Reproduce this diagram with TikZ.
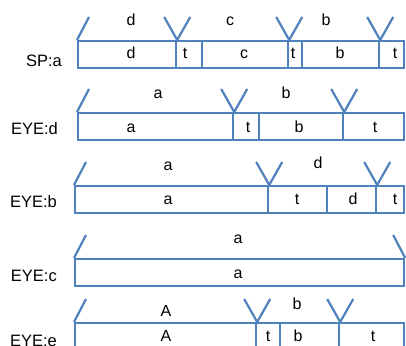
\documentclass[tikz,border=0pt]{standalone}
\usepackage{fontspec}
\setmainfont{Liberation Sans}
\usetikzlibrary{calc}
\definecolor{lb}{RGB}{79,129,189}
\begin{document}
\begin{tikzpicture}[x=1pt,y=-1pt,
  cell/.style={draw=lb,line width=2.2pt,rectangle,inner sep=0pt,anchor=north west},
  vline/.style={draw=lb,line width=2.2pt},
  txt/.style={font=\fontsize{16}{18}\selectfont,inner sep=0pt,anchor=base},
  rowlab/.style={font=\fontsize{16.5}{18}\selectfont,inner sep=0pt,anchor=base east}]
\useasboundingbox (0,0) rectangle (406,345);
\clip (0,0) rectangle (406,345);
% ---------- Row 1 : SP:a ----------
\node[rowlab] (l1) at (62,66) {SP:a};
\node[cell,minimum width=98,minimum height=27] (r1a) at (77,40) {};
\node[cell,minimum width=26,minimum height=27] (r1b) at (175,40) {};
\node[cell,minimum width=86,minimum height=27] (r1c) at (201,40) {};
\node[cell,minimum width=14,minimum height=27] (r1d) at (287,40) {};
\node[cell,minimum width=77,minimum height=27] (r1e) at (301,40) {};
\node[cell,minimum width=25,minimum height=27] (r1f) at (378,40) {};
\node[txt] (t1a) at (131,59) {d};
\node[txt] (t1b) at (185,59) {t};
\node[txt] (t1c) at (244,59) {c};
\node[txt] (t1d) at (293,59) {t};
\node[txt] (t1e) at (340,59) {b};
\node[txt] (t1f) at (395,59) {t};
\draw[vline] (r1a.north west) -- ++(12,-23);
\draw[vline] ($(r1a.north east)+(-13,-23)$) -- (r1a.north east) -- ++(13,-23);
\draw[vline] ($(r1c.north east)+(-13,-23)$) -- (r1c.north east) -- ++(13,-23);
\draw[vline] ($(r1e.north east)+(-13,-23)$) -- (r1e.north east) -- ++(13,-23);
\node[txt] (u1a) at (131,26) {d};
\node[txt] (u1b) at (230,26) {c};
\node[txt] (u1c) at (326,26) {b};
% ---------- Row 2 : EYE:d ----------
\node[rowlab] (l2) at (58,134) {EYE:d};
\node[cell,minimum width=155,minimum height=27] (r2a) at (77,112) {};
\node[cell,minimum width=26,minimum height=27] (r2b) at (232,112) {};
\node[cell,minimum width=84,minimum height=27] (r2c) at (258,112) {};
\node[cell,minimum width=61,minimum height=27] (r2d) at (342,112) {};
\node[txt] (t2a) at (131,132) {a};
\node[txt] (t2b) at (248,132) {t};
\node[txt] (t2c) at (299,132) {b};
\node[txt] (t2d) at (375,132) {t};
\draw[vline] (r2a.north west) -- ++(12,-23);
\draw[vline] ($(r2a.north east)+(-13,-23)$) -- (r2a.north east) -- ++(13,-23);
\draw[vline] ($(r2c.north east)+(-13,-23)$) -- (r2c.north east) -- ++(13,-23);
\node[txt] (u2a) at (158,98) {a};
\node[txt] (u2b) at (286,98) {b};
% ---------- Row 3 : EYE:b ----------
\node[rowlab] (l3) at (57,207) {EYE:b};
\node[cell,minimum width=193,minimum height=27] (r3a) at (74,185) {};
\node[cell,minimum width=59,minimum height=27] (r3b) at (267,185) {};
\node[cell,minimum width=49,minimum height=27] (r3c) at (326,185) {};
\node[cell,minimum width=28,minimum height=27] (r3d) at (375,185) {};
\node[txt] (t3a) at (168,204) {a};
\node[txt] (t3b) at (297,204) {t};
\node[txt] (t3c) at (353,204) {d};
\node[txt] (t3d) at (395,204) {t};
\draw[vline] (r3a.north west) -- ++(12,-23);
\draw[vline] ($(r3a.north east)+(-13,-23)$) -- (r3a.north east) -- ++(13,-23);
\draw[vline] ($(r3c.north east)+(-13,-23)$) -- (r3c.north east) -- ++(13,-23);
\node[txt] (u3a) at (168,170) {a};
\node[txt] (u3b) at (318,168) {d};
% ---------- Row 4 : EYE:c ----------
\node[rowlab] (l4) at (57,281) {EYE:c};
\node[cell,minimum width=329,minimum height=27] (r4a) at (74,258) {};
\node[txt] (t4a) at (238,278) {a};
\draw[vline] (r4a.north west) -- ++(12,-23);
\draw[vline] (r4a.north east) -- ++(-12,-23);
\node[txt] (u4a) at (238,243) {a};
% ---------- Row 5 : EYE:e ----------
\node[rowlab] (l5) at (57,346) {EYE:e};
\node[cell,minimum width=181,minimum height=27] (r5a) at (74,322) {};
\node[cell,minimum width=24,minimum height=27] (r5b) at (255,322) {};
\node[cell,minimum width=59,minimum height=27] (r5c) at (279,322) {};
\node[cell,minimum width=65,minimum height=27] (r5d) at (338,322) {};
\node[txt] (t5a) at (166,341) {A};
\node[txt] (t5b) at (268,341) {t};
\node[txt] (t5c) at (298,341) {b};
\node[txt] (t5d) at (373,341) {t};
\draw[vline] (r5a.north west) -- ++(12,-23);
\draw[vline] ($(r5a.north east)+(-13,-23)$) -- (r5a.north east) -- ++(13,-23);
\draw[vline] ($(r5c.north east)+(-13,-23)$) -- (r5c.north east) -- ++(13,-23);
\node[txt] (u5a) at (166,316) {A};
\node[txt] (u5b) at (297,309) {b};
\end{tikzpicture}
\end{document}
